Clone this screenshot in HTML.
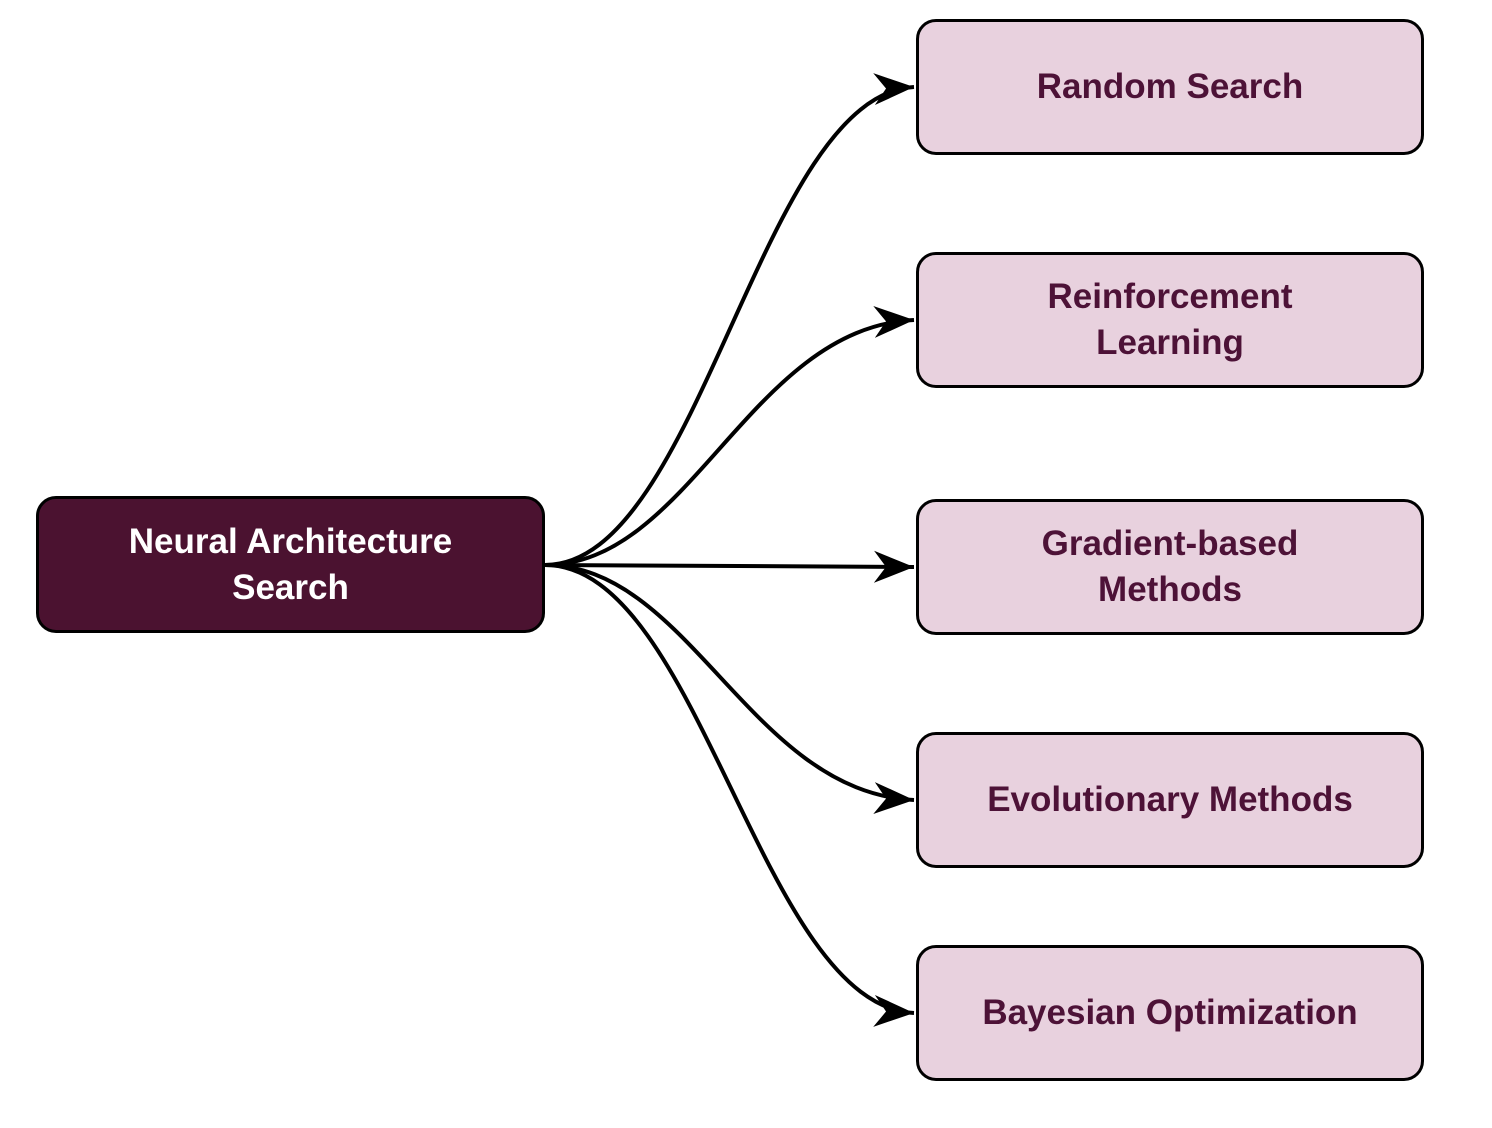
<!DOCTYPE html>
<html><head><style>
body{margin:0;background:#fff;width:1492px;height:1128px;overflow:hidden;font-family:"Liberation Sans",sans-serif;}
.n{position:absolute;box-sizing:border-box;border:3px solid #000;border-radius:20px;display:flex;align-items:center;justify-content:center;text-align:center;font-weight:bold;font-size:35px;line-height:46px;}
.r{left:916px;width:508px;height:136px;background:#e8d1de;color:#4d1237;}
</style></head><body>
<svg width="1492" height="1128" style="position:absolute;left:0;top:0">
<defs><marker id="a" markerWidth="44" markerHeight="36" refX="40" refY="18" orient="auto" markerUnits="userSpaceOnUse">
<path d="M0,2 L40,18 L0,34 L12,18 Z" fill="#000"/></marker></defs>
<g fill="none" stroke="#000" stroke-width="4" marker-end="url(#a)">
<path d="M545,565 C700,565 760,95 914,87"/>
<path d="M545,565 C690,565 750,328 914,320"/>
<path d="M545,565 L914,567"/>
<path d="M545,565 C690,565 750,792 914,800"/>
<path d="M545,565 C700,565 760,1005 914,1013"/>
</g></svg>
<div class="n" style="left:36px;top:496px;width:509px;height:137px;background:#4b1230;color:#fff;">Neural Architecture<br>Search</div>
<div class="n r" style="top:19px;">Random Search</div>
<div class="n r" style="top:252px;">Reinforcement<br>Learning</div>
<div class="n r" style="top:499px;">Gradient-based<br>Methods</div>
<div class="n r" style="top:732px;">Evolutionary Methods</div>
<div class="n r" style="top:945px;">Bayesian Optimization</div>
</body></html>
